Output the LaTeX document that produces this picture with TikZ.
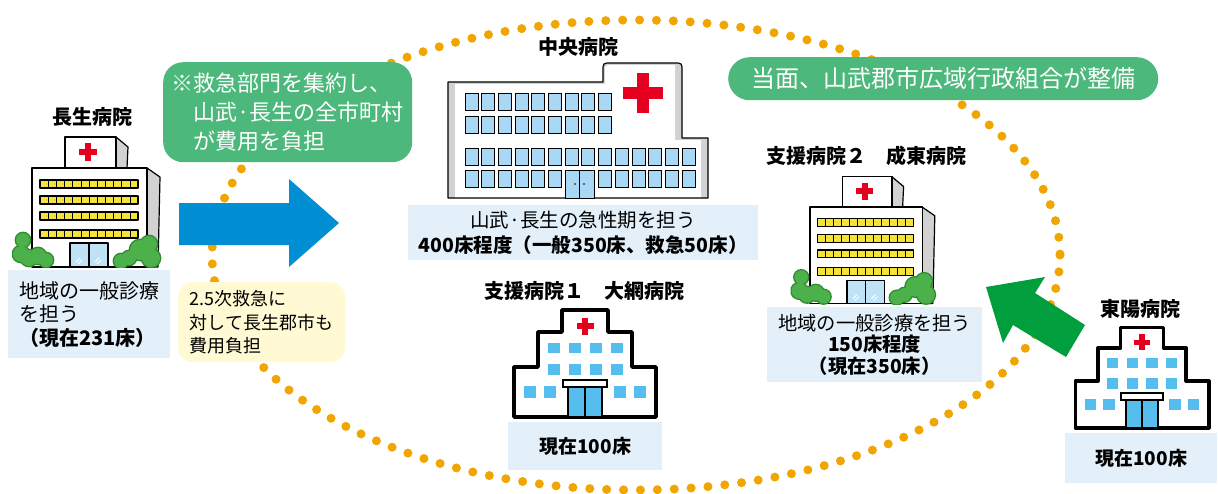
\documentclass[tikz,border=0pt]{standalone}
\usepackage{fontspec}
\setmainfont{Noto Sans CJK JP}

\definecolor{dotorange}{HTML}{F0A500}
\definecolor{boxblue}{HTML}{E3F0FA}
\definecolor{notegreen}{HTML}{4DB87B}
\definecolor{noteyellow}{HTML}{FFFAD4}
\definecolor{arrowblue}{HTML}{008FD3}
\definecolor{arrowgreen}{HTML}{009E3C}
\definecolor{crossred}{HTML}{E60020}
\definecolor{iconblue}{HTML}{55BEEE}
\definecolor{winblue}{HTML}{A9D8F4}
\definecolor{doorblue}{HTML}{BFE3F5}
\definecolor{stripyellow}{HTML}{F3E33A}
\definecolor{bushgreen}{HTML}{4CB14A}
\definecolor{bushdark}{HTML}{2E8B2E}
\definecolor{wallgray}{HTML}{D2D2D2}

\tikzset{
  inkline/.style={draw=black,line width=1.2pt,line join=round},
  winpane/.style={draw=black,line width=1pt,fill=winblue},
  hospname/.style={font=\bfseries\fontsize{20}{24}\selectfont},
  infobox/.style={fill=boxblue,inner sep=0pt,align=center,font=\fontsize{19.5}{25}\selectfont},
  notebox/.style={fill=notegreen,text=white,inner sep=0pt,rounded corners=20pt},
  dotline/.style={dotorange,line width=9pt,line cap=round,dash pattern=on 0pt off 16.9pt}
}

% hospital drawn in perspective, #1 = top left of the front, #2 = scale
\newcommand{\clipartHospital}[2]{%
  \begin{scope}[shift={#1},scale=#2]
    \draw[inkline,fill=wallgray] (115,0) -- (128,9) -- (126,99) -- (115,99) -- cycle;
    \draw[inkline,fill=wallgray] (84,-31) -- (96,-21) -- (95,0) -- (84,0) -- cycle;
    \draw[inkline,fill=white] (33,-31) rectangle (84,0);
    \draw[inkline,fill=white] (0,0) rectangle (115,99);
    % red cross
    \fill[crossred] (53,-25) rectangle (59,-7);
    \fill[crossred] (47,-19) rectangle (65,-13);
    % window bands
    \foreach \r in {12,28,44,62} {
      \draw[inkline,fill=stripyellow] (8,\r) rectangle (106,\r+8);
      \foreach \c in {1,...,11}
        \draw[line width=0.6pt] (8+\c*98/12,\r) -- ++(0,8);
    }
    % entrance
    \draw[inkline,fill=doorblue] (38,75) rectangle (76,99);
    \draw[inkline] (57,75) -- (57,99);
    \draw[white,line width=1pt] (44,94) -- (48,90) (46,96) -- (50,92)
      (63,94) -- (67,90) (65,96) -- (69,92);
    % bushes
    \begin{scope}
      \clip (-20,40) rectangle (135,99.5);
      \foreach \x/\y/\r in {-9/72/7,-11/86/8,-3/90/8,6/88/8,14/92/7,
                            89/93/7,97/90/7,108/82/10,117/76/8,119/90/9}
        \fill[bushdark] (\x,\y) circle[radius=\r+1.4];
      \foreach \x/\y/\r in {-9/72/7,-11/86/8,-3/90/8,6/88/8,14/92/7,
                            89/93/7,97/90/7,108/82/10,117/76/8,119/90/9}
        \fill[bushgreen] (\x,\y) circle[radius=\r];
    \end{scope}
  \end{scope}}

% flat hospital icon, #1 = bottom centre, #2 = scale
\newcommand{\iconHospital}[2]{%
  \begin{scope}[shift={#1},scale=#2]
    \draw[line width=3.5pt,line join=round,fill=white] (-71,0) -- (-71,-50) -- (-47,-50)
      -- (-47,-85) -- (-23,-85) -- (-23,-107) -- (23,-107) -- (23,-85) -- (47,-85)
      -- (47,-50) -- (71,-50) -- (71,0) -- cycle;
    \fill[crossred] (-3,-99.5) rectangle (3,-82.5);
    \fill[crossred] (-8.5,-94) rectangle (8.5,-88);
    \foreach \x in {-31.5,-10.5,10.5,31.5} {
      \fill[iconblue] (\x-6,-74) rectangle (\x+6,-64);
      \fill[iconblue] (\x-6,-53) rectangle (\x+6,-42);
    }
    \foreach \x in {-55,-35,35,55}
      \fill[iconblue] (\x-6,-31) rectangle (\x+6,-19);
    \draw[line width=2pt,fill=white] (-22,-37) rectangle (22,-30);
    \draw[line width=2pt,fill=iconblue] (-17,-30) rectangle (17,0);
    \draw[line width=2pt] (0,-30) -- (0,0);
  \end{scope}}

\begin{document}
\begin{tikzpicture}[x=1pt,y=-1pt]
  \useasboundingbox (0,0) rectangle (1218,493);
  \fill[white] (0,0) rectangle (1218,493);

  % dotted ring round the area
  \draw[dotline] (636,255) ellipse [x radius=424, y radius=235];

  % Chosei
  \node[hospname] (chosei-name) at (92,117) {長生病院};
  \clipartHospital{(32,168)}{1}
  \node[infobox,align=left,font=\fontsize{20}{23.5}\selectfont,minimum width=162pt,
    minimum height=88pt,anchor=north west] (chosei-info) at (8,270)
    {地域の一般診療\\を担う\\\textbf{（現在231床）}};

  % notes and arrow towards the centre
  \node[notebox,align=left,font=\fontsize{22}{29}\selectfont,minimum width=249pt,
    minimum height=100pt,anchor=north west] (note-fee) at (163,62)
    {※救急部門を集約し、\\\phantom{※}山武·長生の全市町村\\\phantom{※}が費用を負担};
  \fill[arrowblue] (179,203) -- (289,203) -- (289,179) -- (339,223) -- (289,267)
    -- (289,245) -- (179,245) -- cycle;
  \node[fill=noteyellow,rounded corners=15pt,inner sep=0pt,align=left,
    font=\fontsize{18}{23.5}\selectfont,minimum width=167pt,minimum height=80pt,
    anchor=north west] (note-secondary) at (178,282)
    {2.5次救急に\\対して長生郡市も\\費用負担};

  % central hospital
  \node[hospname] (chuo-name) at (578,47) {中央病院};
  \draw[inkline,fill=wallgray] (448,198) -- (448,82) -- (603,82) -- (603,71)
    .. controls (603,63) .. (611,63) -- (674,63) .. controls (682,63) .. (682,71)
    -- (682,138) -- (708,138) -- (708,198) -- cycle;
  \fill[white] (455,197) -- (455,84) -- (605,84) -- (605,72)
    .. controls (605,65) .. (612,65) -- (675,65) -- (675,140) -- (701,140)
    -- (701,197) -- cycle;
  \foreach \k in {0,...,8} {
    \draw[winpane] (465+16.7*\k,93) rectangle ++(13,17);
    \draw[winpane] (465+16.7*\k,116) rectangle ++(13,17);
  }
  \foreach \k in {0,...,13}
    \draw[winpane] (465+16.7*\k,148) rectangle ++(13,17);
  \foreach \k in {0,1,2,3,4,5,8,9,10,11,12,13}
    \draw[winpane] (465+16.7*\k,170) rectangle ++(13,17);
  \draw[winpane] (565,170) rectangle (594,198);
  \draw[line width=1pt] (579.5,170) -- (579.5,198);
  \fill (575,184) circle[radius=0.9] (584,184) circle[radius=0.9];
  \fill[crossred] (637,73) rectangle (649,113);
  \fill[crossred] (623,87) rectangle (663,99);
  \node[infobox,minimum width=350pt,minimum height=55pt,anchor=north west]
    (chuo-info) at (408,205)
    {山武·長生の急性期を担う\\\textbf{400床程度（一般350床、救急50床）}};

  % support hospital 1
  \node[hospname] (oami-name) at (584,291) {支援病院１　大網病院};
  \iconHospital{(585,417)}{1}
  \node[infobox,font=\bfseries\fontsize{19}{23}\selectfont,minimum width=154pt,
    minimum height=48pt,anchor=north west] (oami-info) at (508,422) {現在100床};

  % support hospital 2
  \node[notebox,rounded corners=21.5pt,font=\fontsize{24}{28}\selectfont,
    minimum width=430pt,minimum height=43pt,anchor=north west] (note-admin)
    at (728,57) {当面、山武郡市広域行政組合が整備};
  \node[hospname] (naruto-name) at (866,156) {支援病院２　成東病院};
  \clipartHospital{(810,207)}{0.975}
  \node[infobox,font=\fontsize{19.3}{21.5}\selectfont,minimum width=215pt,
    minimum height=75pt,anchor=north west] (naruto-info) at (767,307)
    {地域の一般診療を担う\\\textbf{150床程度}\\\textbf{（現在350床）}};

  % Toyo
  \fill[arrowgreen] (986,287) -- (1045,277) -- (1035,293) -- (1085,325)
    -- (1066,357) -- (1013,325) -- (1003,343) -- cycle;
  \node[hospname] (toyo-name) at (1140,309) {東陽病院};
  \iconHospital{(1142,428)}{0.94}
  \node[infobox,font=\bfseries\fontsize{19}{23}\selectfont,minimum width=152pt,
    minimum height=50pt,anchor=north west] (toyo-info) at (1065,433) {現在100床};
\end{tikzpicture}
\end{document}
